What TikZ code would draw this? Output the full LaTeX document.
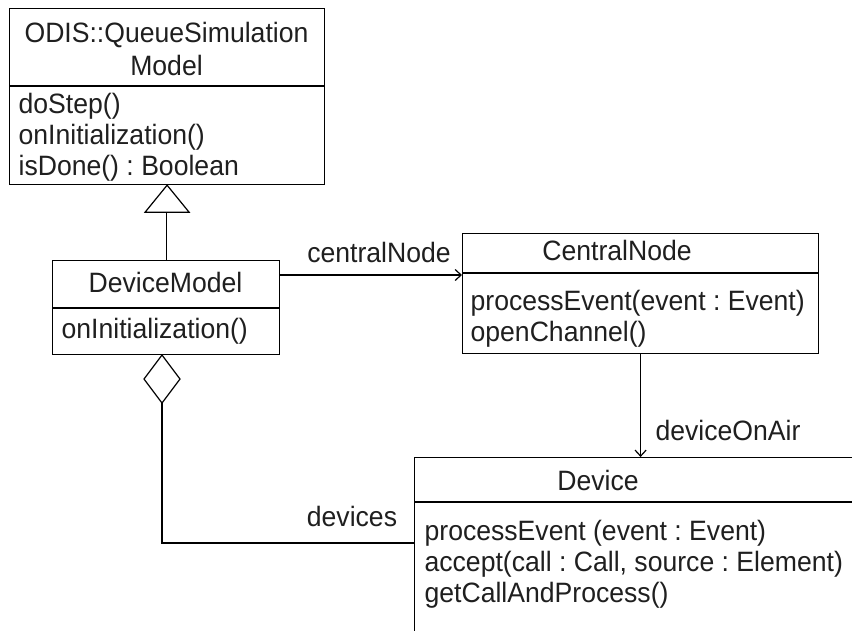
\documentclass[tikz,border=0pt]{standalone}
\usepackage{fontspec}
\setmainfont[FakeStretch=0.95]{Liberation Sans}
\usetikzlibrary{arrows.meta,calc}
\frenchspacing
\begin{document}
\begin{tikzpicture}[x=1pt,y=-1pt, line width=1.2pt,
  txt/.style={inner sep=0pt, font=\fontsize{28}{32}\selectfont, text=black!88},
  lbl/.style={txt, anchor=base west},
  ctr/.style={txt, anchor=base},
  box/.style={draw, inner sep=0pt, anchor=north west},
  arr/.style={-{Straight Barb[length=6pt,width=11pt,line width=1.2pt]}}]
\clip (0,0) rectangle (852,630);
% boxes
\node[box, minimum width=315pt, minimum height=176pt] (odis) at (9,8) {};
\node[box, minimum width=227pt, minimum height=94pt] (dm) at (52,260) {};
\node[box, minimum width=356pt, minimum height=120pt] (cn) at (462,233) {};
\node[box, minimum width=470pt, minimum height=200pt] (dev) at (414,457) {};
% separators
\draw (odis.west |- 0,86) -- (odis.east |- 0,86);
\draw (dm.west |- 0,308) -- (dm.east |- 0,308);
\draw (cn.west |- 0,273) -- (cn.east |- 0,273);
\draw (dev.west |- 0,502) -- (dev.east |- 0,502);
% texts
\node[ctr] (t1) at (166.5,42) {ODIS::QueueSimulation};
\node[ctr] (t2) at (166.5,75) {Model};
\node[lbl] (m1) at (18,113) {doStep()};
\node[lbl] (m2) at (18,144) {onInitialization()};
\node[lbl] (m3) at (18,175) {isDone() : Boolean};
\node[ctr] (t3) at (165.5,292) {DeviceModel};
\node[lbl] (m4) at (61,338) {onInitialization()};
\node[ctr] (t4) at (617,260) {CentralNode};
\node[lbl] (m5) at (470,310) {processEvent(event : Event)};
\node[lbl] (m6) at (470,341) {openChannel()};
\node[ctr] (t5) at (598,490) {Device};
\node[lbl] (m7) at (424,540) {processEvent (event : Event)};
\node[lbl] (m8) at (424,571) {accept(call : Call, source : Element)};
\node[lbl] (m9) at (424,602) {getCallAndProcess()};
% generalization
\draw (odis.south) -- ++(-22,27) -- ++(44,0) -- cycle;
\coordinate (tribase) at ($(odis.south)+(0,27)$);
\draw (dm.north) -- (dm.north |- tribase);
% association centralNode
\draw[arr] (dm.east |- 0,275) -- (cn.west |- 0,275);
\node[ctr] (l1) at (379,262) {centralNode};
% association deviceOnAir
\draw[arr] (cn.south) -- (dev.north -| cn.south);
\node[lbl] (l2) at (655,440) {deviceOnAir};
% aggregation devices
\coordinate (dtop) at (162,355);
\draw (dtop) -- ++(-18,24) -- ++(18,24) -- ++(18,-24) -- cycle;
\coordinate (dbot) at (162,403);
\draw (dbot) |- (dev.west |- 0,543);
\node[ctr] (l3) at (352,526) {devices};
\end{tikzpicture}
\end{document}
